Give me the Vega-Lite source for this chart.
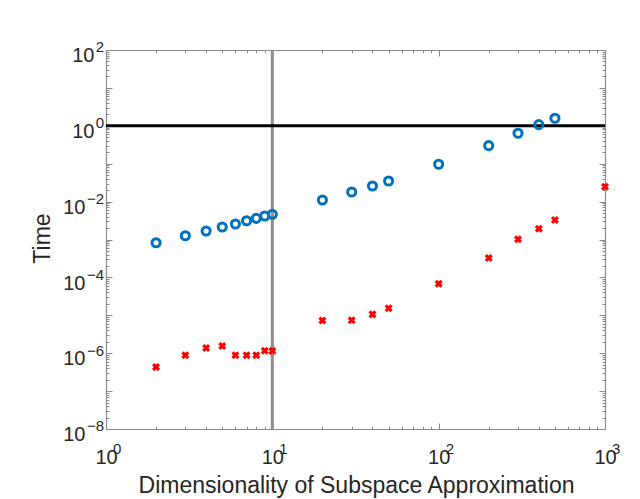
{
  "$schema": "https://vega.github.io/schema/vega-lite/v6.json",
  "autosize": "none",
  "width": 499,
  "height": 379,
  "padding": {"left": 106, "top": 50, "right": 35, "bottom": 70},
  "background": "white",
  "config": {
    "view": {"stroke": null},
    "font": "Liberation Sans",
    "text": {"font": "Liberation Sans"},
    "axis": {
      "labelFont": "Liberation Sans",
      "titleFont": "Liberation Sans",
      "labelFontSize": 20,
      "titleFontSize": 23,
      "titleFontWeight": "normal",
      "labelColor": "#262626",
      "titleColor": "#262626",
      "domainColor": "#8a8a8a",
      "tickColor": "#8a8a8a",
      "domainWidth": 1.2,
      "tickWidth": 1,
      "grid": false,
      "labelOverlap": false,
      "labelFlush": false,
      "labelBound": false
    }
  },
  "datasets": {
    "circ": [
      {"d": 2, "t": 0.00082}, {"d": 3, "t": 0.00126}, {"d": 4, "t": 0.00168},
      {"d": 5, "t": 0.00214}, {"d": 6, "t": 0.00256}, {"d": 7, "t": 0.00313},
      {"d": 8, "t": 0.00362}, {"d": 9, "t": 0.00417}, {"d": 10, "t": 0.00462},
      {"d": 20, "t": 0.011}, {"d": 30, "t": 0.0179}, {"d": 40, "t": 0.0258},
      {"d": 50, "t": 0.035}, {"d": 100, "t": 0.0964}, {"d": 200, "t": 0.299},
      {"d": 300, "t": 0.634}, {"d": 400, "t": 1.07}, {"d": 500, "t": 1.58}
    ],
    "cross": [
      {"d": 2, "t": 4.3e-7}, {"d": 3, "t": 8.8e-7}, {"d": 4, "t": 1.37e-6},
      {"d": 5, "t": 1.55e-6}, {"d": 6, "t": 8.8e-7}, {"d": 7, "t": 8.8e-7},
      {"d": 8, "t": 8.8e-7}, {"d": 9, "t": 1.16e-6}, {"d": 10, "t": 1.15e-6},
      {"d": 20, "t": 7.3e-6}, {"d": 30, "t": 7.4e-6}, {"d": 40, "t": 1.06e-5},
      {"d": 50, "t": 1.53e-5}, {"d": 100, "t": 6.8e-5}, {"d": 200, "t": 3.25e-4},
      {"d": 300, "t": 1.01e-3}, {"d": 400, "t": 1.93e-3}, {"d": 500, "t": 3.27e-3},
      {"d": 1000, "t": 0.0247}
    ],
    "xexp": [
      {"d": 1, "e": "0"}, {"d": 10, "e": "1"}, {"d": 100, "e": "2"}, {"d": 1000, "e": "3"}
    ],
    "yexp": [
      {"t": 1e-8, "e": "−8"}, {"t": 1e-6, "e": "−6"}, {"t": 1e-4, "e": "−4"},
      {"t": 1e-2, "e": "−2"}, {"t": 1, "e": "0"}, {"t": 100, "e": "2"}
    ]
  },
  "resolve": {"axis": {"x": "independent", "y": "independent"}},
  "layer": [
    {
      "data": {"values": [{}]},
      "mark": {"type": "rule", "color": "#8c8c8c", "strokeWidth": 3},
      "encoding": {
        "x": {"datum": 10, "type": "quantitative", "scale": {"type": "log", "domain": [1, 1000], "nice": false}, "axis": null}
      }
    },
    {
      "data": {"values": [{}]},
      "mark": {"type": "rule", "color": "#000000", "strokeWidth": 3},
      "encoding": {
        "y": {"datum": 1, "type": "quantitative", "scale": {"type": "log", "domain": [1e-8, 100], "nice": false}, "axis": null}
      }
    },
    {
      "data": {"name": "circ"},
      "mark": {"type": "point", "shape": "circle", "filled": false, "stroke": "#0072BD", "strokeWidth": 3, "size": 66, "opacity": 1},
      "encoding": {
        "x": {
          "field": "d", "type": "quantitative",
          "scale": {"type": "log", "domain": [1, 1000], "nice": false},
          "title": "Dimensionality of Subspace Approximation",
          "axis": {
            "orient": "bottom",
            "values": [1,2,3,4,5,6,7,8,9,10,20,30,40,50,60,70,80,90,100,200,300,400,500,600,700,800,900,1000],
            "tickSize": {"condition": {"test": "abs(log(datum.value)/LN10 - round(log(datum.value)/LN10)) < 1e-6", "value": -6}, "value": -3},
            "labelPadding": 40,
            "labelBaseline": "alphabetic",
            "labelAlign": "center",
            "labelDx": -5,
            "labelExpr": "abs(log(datum.value)/LN10 - round(log(datum.value)/LN10)) < 1e-6 ? '10' : ''",
            "titleBaseline": "alphabetic",
            "titleY": 63,
            "titleX": 250
          }
        },
        "y": {
          "field": "t", "type": "quantitative",
          "scale": {"type": "log", "domain": [1e-8, 100], "nice": false},
          "title": "Time",
          "axis": {
            "orient": "left",
            "values": [1e-8,2e-8,3e-8,4e-8,5e-8,6e-8,7e-8,8e-8,9e-8,1e-7,2e-7,3e-7,4e-7,5e-7,6e-7,7e-7,8e-7,9e-7,1e-6,2e-6,3e-6,4e-6,5e-6,6e-6,7e-6,8e-6,9e-6,1e-5,2e-5,3e-5,4e-5,5e-5,6e-5,7e-5,8e-5,9e-5,1e-4,2e-4,3e-4,4e-4,5e-4,6e-4,7e-4,8e-4,9e-4,1e-3,2e-3,3e-3,4e-3,5e-3,6e-3,7e-3,8e-3,9e-3,0.01,0.02,0.03,0.04,0.05,0.06,0.07,0.08,0.09,0.1,0.2,0.3,0.4,0.5,0.6,0.7,0.8,0.9,1,2,3,4,5,6,7,8,9,10,20,30,40,50,60,70,80,90,100],
            "tickSize": {"condition": {"test": "abs(log(datum.value)/LN10 - round(log(datum.value)/LN10)) < 1e-6", "value": -6}, "value": -3},
            "labelPadding": {"condition": {"test": "datum.value < 0.5", "value": 27}, "value": 18},
            "labelBaseline": "middle",
            "labelOffset": 5.7,
            "labelExpr": "(abs(log(datum.value)/LN10 - round(log(datum.value)/LN10)) < 1e-6 && round(log(datum.value)/LN10) % 2 == 0) ? '10' : ''",
            "titleBaseline": "alphabetic",
            "titleAngle": -90,
            "titleX": -57,
            "titleY": 188
          }
        }
      }
    },
    {
      "data": {"name": "cross"},
      "mark": {"type": "point", "shape": "M-0.75,-0.75L0.75,0.75M0.75,-0.75L-0.75,0.75", "filled": false, "stroke": "#FF0000", "strokeWidth": 3.2, "size": 60, "opacity": 1},
      "encoding": {
        "x": {
          "field": "d", "type": "quantitative",
          "scale": {"type": "log", "domain": [1, 1000], "nice": false},
          "axis": {
            "orient": "top",
            "values": [1,2,3,4,5,6,7,8,9,10,20,30,40,50,60,70,80,90,100,200,300,400,500,600,700,800,900,1000],
            "tickSize": {"condition": {"test": "abs(log(datum.value)/LN10 - round(log(datum.value)/LN10)) < 1e-6", "value": -6}, "value": -3},
            "labels": false,
            "title": null
          }
        },
        "y": {
          "field": "t", "type": "quantitative",
          "scale": {"type": "log", "domain": [1e-8, 100], "nice": false},
          "axis": {
            "orient": "right",
            "values": [1e-8,2e-8,3e-8,4e-8,5e-8,6e-8,7e-8,8e-8,9e-8,1e-7,2e-7,3e-7,4e-7,5e-7,6e-7,7e-7,8e-7,9e-7,1e-6,2e-6,3e-6,4e-6,5e-6,6e-6,7e-6,8e-6,9e-6,1e-5,2e-5,3e-5,4e-5,5e-5,6e-5,7e-5,8e-5,9e-5,1e-4,2e-4,3e-4,4e-4,5e-4,6e-4,7e-4,8e-4,9e-4,1e-3,2e-3,3e-3,4e-3,5e-3,6e-3,7e-3,8e-3,9e-3,0.01,0.02,0.03,0.04,0.05,0.06,0.07,0.08,0.09,0.1,0.2,0.3,0.4,0.5,0.6,0.7,0.8,0.9,1,2,3,4,5,6,7,8,9,10,20,30,40,50,60,70,80,90,100],
            "tickSize": {"condition": {"test": "abs(log(datum.value)/LN10 - round(log(datum.value)/LN10)) < 1e-6", "value": -6}, "value": -3},
            "labels": false,
            "title": null
          }
        }
      }
    },
    {
      "data": {"name": "xexp"},
      "mark": {"type": "text", "fontSize": 15, "color": "#262626", "align": "left", "baseline": "alphabetic", "dx": 7, "dy": 25},
      "encoding": {
        "x": {"field": "d", "type": "quantitative", "scale": {"type": "log", "domain": [1, 1000], "nice": false}, "axis": null},
        "y": {"datum": 1e-8, "type": "quantitative", "scale": {"type": "log", "domain": [1e-8, 100], "nice": false}, "axis": null},
        "text": {"field": "e"}
      }
    },
    {
      "data": {"name": "yexp"},
      "mark": {"type": "text", "fontSize": 15, "color": "#262626", "align": "right", "baseline": "alphabetic", "dx": -2, "dy": 2.4},
      "encoding": {
        "x": {"datum": 1, "type": "quantitative", "scale": {"type": "log", "domain": [1, 1000], "nice": false}, "axis": null},
        "y": {"field": "t", "type": "quantitative", "scale": {"type": "log", "domain": [1e-8, 100], "nice": false}, "axis": null},
        "text": {"field": "e"}
      }
    }
  ]
}
